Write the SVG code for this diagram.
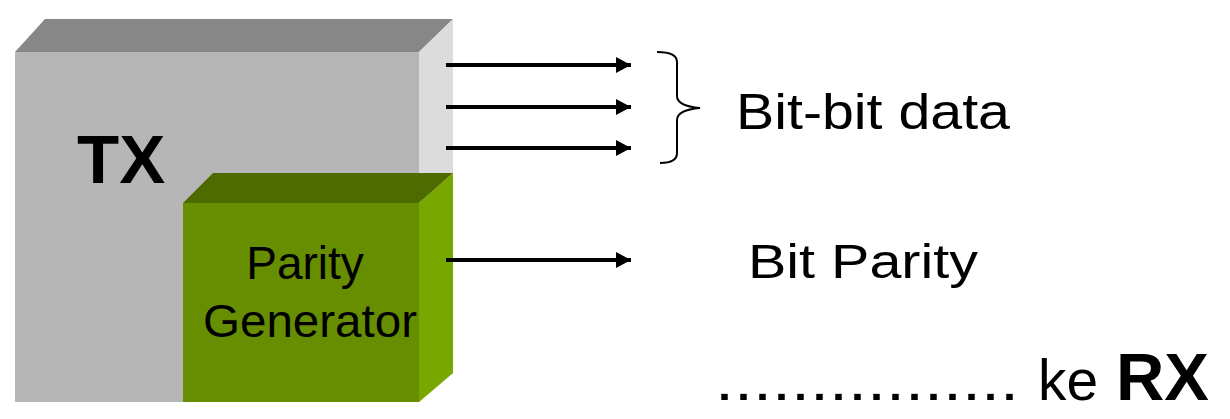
<svg xmlns="http://www.w3.org/2000/svg" width="1230" height="419" viewBox="0 0 1230 419">
<style>
.lbl{font-family:"Liberation Sans",Arial,sans-serif;fill:#000}
.conn{stroke:#000;stroke-width:4;fill:none}
</style>
<defs>
<marker id="ah" markerUnits="userSpaceOnUse" markerWidth="18" markerHeight="18" refX="15" refY="8" orient="auto">
<path d="M0,0 L15,8 L0,16 Z" fill="#000"/>
</marker>
</defs>
<rect width="1230" height="419" fill="#fff"/>
<g id="tx">
<polygon points="15,52 45,19 453,19 419,52" fill="#878787"/>
<polygon points="419,52 453,19 453,373 419,402" fill="#dcdcdc"/>
<rect x="15" y="52" width="404" height="350" fill="#b6b6b6"/>
<text class="lbl" x="77" y="183" font-size="69" font-weight="bold">TX</text>
</g>
<g id="parity-generator">
<polygon points="183,203 213,173 453,173 419,203" fill="#4e6b00"/>
<polygon points="419,203 453,173 453,373 419,402" fill="#78a800"/>
<rect x="183" y="203" width="236" height="199" fill="#678d00"/>
<text class="lbl" x="305" y="279" font-size="46" text-anchor="middle">Parity</text>
<text class="lbl" x="310" y="337" font-size="46" text-anchor="middle" textLength="214" lengthAdjust="spacingAndGlyphs">Generator</text>
</g>
<g id="connectors">
<line class="conn" x1="446" y1="65" x2="631" y2="65" marker-end="url(#ah)"/>
<line class="conn" x1="446" y1="107" x2="631" y2="107" marker-end="url(#ah)"/>
<line class="conn" x1="446" y1="148" x2="631" y2="148" marker-end="url(#ah)"/>
<line class="conn" x1="446" y1="260" x2="631" y2="260" marker-end="url(#ah)"/>
<path d="M657,52 Q677,52 677,62 L677,96 Q677,106 700,108 Q677,110 677,120 L677,153 Q677,163 660,163" fill="none" stroke="#000" stroke-width="2"/>
</g>
<g id="labels">
<text class="lbl" x="736" y="129" font-size="50" textLength="274" lengthAdjust="spacingAndGlyphs">Bit-bit data</text>
<text class="lbl" x="748" y="278" font-size="49" textLength="230" lengthAdjust="spacingAndGlyphs">Bit Parity</text>
<text class="lbl" x="715" y="400" font-size="58" textLength="304" lengthAdjust="spacingAndGlyphs">................</text>
<text class="lbl" x="1038" y="400" font-size="57" textLength="60" lengthAdjust="spacingAndGlyphs">ke</text>
<text class="lbl" x="1116" y="400" font-size="66" font-weight="bold" textLength="93" lengthAdjust="spacingAndGlyphs">RX</text>
</g>
</svg>
